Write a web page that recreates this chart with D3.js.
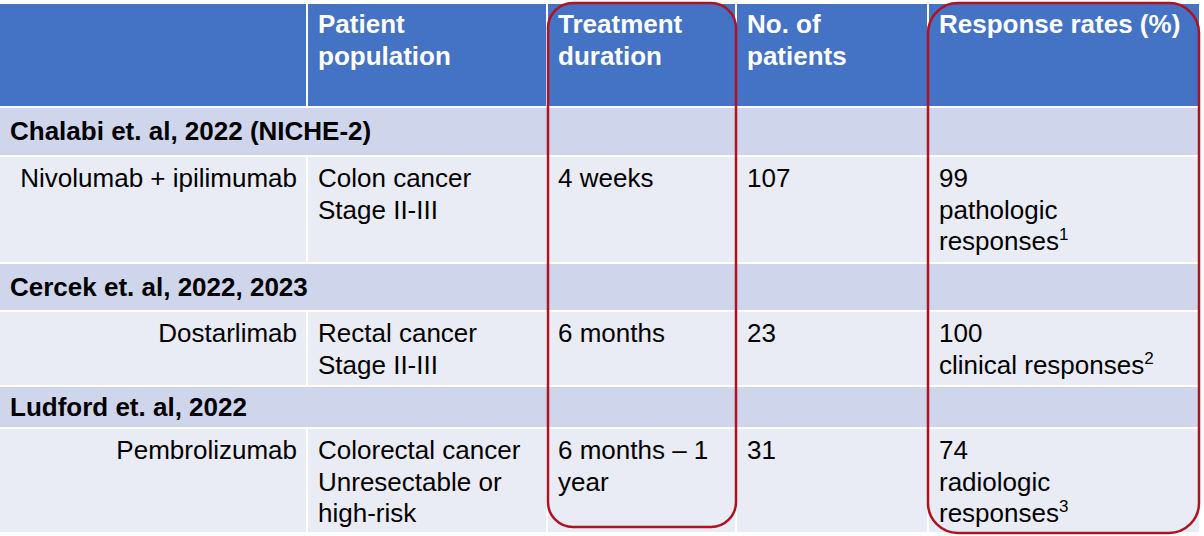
<!DOCTYPE html>
<html>
<head>
<meta charset="utf-8">
<script src="https://cdn.jsdelivr.net/npm/d3@7"></script>
<style>
  html, body { margin: 0; padding: 0; background: #ffffff; }
  svg { display: block; }
  text { font-family: "Liberation Sans", Arial, sans-serif; }
</style>
</head>
<body>
<div id="chart"></div>
<script>
// ---- Data ----
const headers = [[""], ["Patient", "population"], ["Treatment", "duration"], ["No. of", "patients"], ["Response rates (%)"]];
const studies = ["Chalabi et. al, 2022 (NICHE-2)", "Cercek et. al, 2022, 2023", "Ludford et. al, 2022"];
const drugs = ["Nivolumab + ipilimumab", "Dostarlimab", "Pembrolizumab"];
const populations = [["Colon cancer", "Stage II-III"], ["Rectal cancer", "Stage II-III"], ["Colorectal cancer", "Unresectable or", "high-risk"]];
const durations = [["4 weeks"], ["6 months"], ["6 months \u2013 1", "year"]];
const patients = [107, 23, 31];
const responseRates = [99, 100, 74];
const responseTypes = [["pathologic", "responses"], ["clinical responses"], ["radiologic", "responses"]];
const footnotes = ["1", "2", "3"];
const highlightedColumns = [2, 4];

// ---- Layout ----
const W = 1204, H = 536;
const colEdges = [0, 307, 547, 736, 928, 1200];
const rowKinds = ["header", "group", "data", "group", "data", "group", "data"];
const rowEdges = [3, 107, 156, 263, 311, 386, 428, 533];

const xCol = d3.scaleOrdinal().domain(d3.range(5)).range(colEdges.slice(0, 5));
const xColEnd = d3.scaleOrdinal().domain(d3.range(5)).range(colEdges.slice(1));
const yRow = d3.scaleOrdinal().domain(d3.range(7)).range(rowEdges.slice(0, 7));
const yRowEnd = d3.scaleOrdinal().domain(d3.range(7)).range(rowEdges.slice(1));
const fillOf = d3.scaleOrdinal().domain(["header", "group", "data"]).range(["#4472C4", "#CFD5EA", "#E9EBF5"]);

const FS = 26, LH = 31.5, PAD = 11;

const svg = d3.select("#chart").append("svg").attr("width", W).attr("height", H);
svg.append("rect").attr("width", W).attr("height", H).attr("fill", "#ffffff");

const gap = 1;
rowKinds.forEach((kind, r) => {
  if (kind === "group") {
    svg.append("rect")
      .attr("x", xCol(0)).attr("y", yRow(r) + gap)
      .attr("width", xColEnd(4) - xCol(0)).attr("height", yRowEnd(r) - yRow(r) - 2 * gap)
      .attr("fill", fillOf(kind));
  } else {
    d3.range(5).forEach(c => {
      svg.append("rect")
        .attr("x", xCol(c) + (c === 0 ? 0 : gap)).attr("y", yRow(r) + gap)
        .attr("width", xColEnd(c) - xCol(c) - (c === 0 ? gap : 2 * gap))
        .attr("height", yRowEnd(r) - yRow(r) - 2 * gap)
        .attr("fill", fillOf(kind));
    });
  }
});

function multiline(x, yTop, lines, opts) {
  const t = svg.append("text")
    .attr("font-size", FS)
    .attr("fill", opts.fill || "#000")
    .attr("font-weight", opts.bold ? "bold" : "normal")
    .attr("text-anchor", opts.anchor || "start");
  lines.forEach((ln, i) => {
    t.append("tspan").attr("x", x).attr("y", yTop + i * LH).text(ln);
  });
  return t;
}

headers.forEach((lines, c) => {
  multiline(xCol(c) + PAD, yRow(0) + 30, lines, { bold: true, fill: "#ffffff" });
});

studies.forEach((s, i) => {
  const gr = 1 + i * 2, dr = 2 + i * 2;
  const mid = (yRow(gr) + yRowEnd(gr)) / 2;
  svg.append("text")
    .attr("x", 10).attr("y", mid + 8.5)
    .attr("font-size", FS).attr("font-weight", "bold").attr("fill", "#000")
    .text(s);

  const top = yRow(dr) + 31;
  multiline(xColEnd(0) - PAD + 1, top, [drugs[i]], { anchor: "end" });
  multiline(xCol(1) + PAD, top, populations[i], {});
  multiline(xCol(2) + PAD, top, durations[i], {});
  multiline(xCol(3) + PAD, top, [String(patients[i])], {});
  const lines = [String(responseRates[i])].concat(responseTypes[i]);
  const t = multiline(xCol(4) + PAD, top, lines, {});
  t.append("tspan").attr("font-size", 17).attr("dy", -10).text(footnotes[i]);
});

const boxSpec = [
  { x0: 548, x1: 736, y0: 3, y1: 527, r: 25 },
  { x0: 928, x1: 1199, y0: 3, y1: 533, r: 30 }
];
svg.selectAll("rect.hl").data(highlightedColumns.map((c, i) => boxSpec[i])).enter()
  .append("rect").attr("class", "hl")
  .attr("x", d => d.x0).attr("y", d => d.y0)
  .attr("width", d => d.x1 - d.x0).attr("height", d => d.y1 - d.y0)
  .attr("rx", d => d.r).attr("ry", d => d.r)
  .attr("fill", "none").attr("stroke", "#B0121F").attr("stroke-width", 2.5);
</script>
</body>
</html>
